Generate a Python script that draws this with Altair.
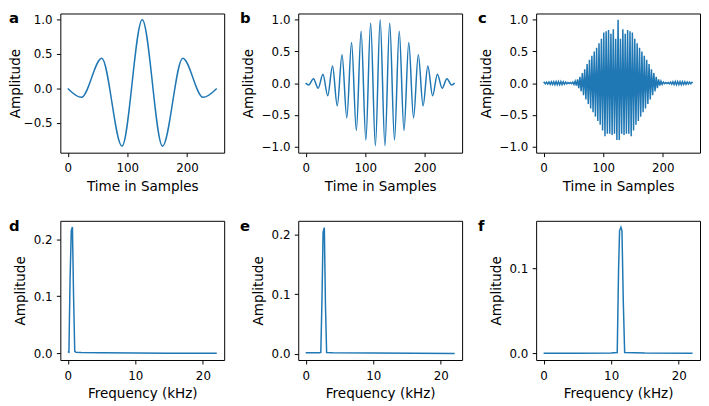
import altair as alt
import pandas as pd

# ---------------- data ----------------
# a: slow wavelet, extrema (time in samples, amplitude)
a_x = [0, 23, 57, 91, 125, 159, 193, 227, 250]
a_y = [0.0, -0.13, 0.44, -0.84, 1.0, -0.84, 0.44, -0.13, 0.0]

# b: medium wavelet, extrema
b_x = [0, 5, 13, 21, 29, 37, 45, 53, 61, 69, 77, 85, 93, 101, 109, 117, 125,
       133, 141, 149, 157, 165, 173, 181, 189, 197, 205, 213, 221, 229, 237, 245, 250]
b_y = [0.0, -0.03, 0.07, -0.08, 0.14, -0.2, 0.27, -0.36, 0.45, -0.55, 0.64, -0.75,
       0.82, -0.9, 0.95, -0.99, 1.0, -0.99, 0.95, -0.9, 0.82, -0.75, 0.64, -0.55,
       0.45, -0.36, 0.27, -0.2, 0.14, -0.08, 0.07, -0.03, 0.0]

# c: fast wavelet, alternating extrema at odd samples
c_x = [0] + list(range(1, 250, 2)) + [250]
c_y = [0.0,
       0.01, -0.012, 0.015, -0.015, 0.018, -0.02, 0.02, -0.022, 0.022, -0.025,
       0.025, -0.025, 0.025, -0.025, 0.025, -0.022, 0.02, -0.018, 0.015, -0.012,
       0.01, -0.008, 0.008, -0.01, 0.015, -0.02, 0.03, -0.04, 0.06, -0.08,
       0.1, -0.13, 0.16, -0.19, 0.22, -0.26, 0.3, -0.33, 0.37, -0.4,
       0.43, -0.46, 0.5, -0.53, 0.56, -0.6, 0.63, -0.66, 0.7, -0.75,
       0.8, -0.84, 0.82, -0.8, 0.84, -0.8, 0.78, -0.82, 0.85, -0.8,
       0.7, -0.9, 1.0,
       -0.9, 0.7, -0.8, 0.85, -0.82, 0.78, -0.8, 0.84, -0.8, 0.82,
       -0.84, 0.8, -0.75, 0.7, -0.66, 0.63, -0.6, 0.56, -0.53, 0.5,
       -0.46, 0.43, -0.4, 0.37, -0.33, 0.3, -0.26, 0.22, -0.19, 0.16,
       -0.13, 0.1, -0.08, 0.06, -0.04, 0.03, -0.02, 0.015, -0.01, 0.008,
       -0.008, 0.01, -0.012, 0.015, -0.018, 0.02, -0.022, 0.025, -0.025, 0.025,
       -0.025, 0.025, -0.025, 0.022, -0.022, 0.02, -0.02, 0.018, -0.015, 0.015,
       -0.012, 0.01,
       0.0]

# d, e, f: spectra (frequency in kHz, amplitude)
d_x = [0.0, 0.17, 0.34, 0.52, 0.69, 0.86, 1.03, 1.2, 2.0, 5.0, 10.0, 15.0, 22.05]
d_y = [0.003, 0.002, 0.13, 0.215, 0.221, 0.1, 0.004, 0.002, 0.0015, 0.001, 0.0007, 0.0005, 0.0004]

e_x = [0.0, 1.0, 2.0, 2.24, 2.41, 2.58, 2.76, 2.93, 3.1, 4.0, 10.0, 22.05]
e_y = [0.0015, 0.0015, 0.0015, 0.002, 0.09, 0.205, 0.212, 0.08, 0.002, 0.0015, 0.001, 0.0005]

f_x = [0.0, 5.0, 10.0, 10.9, 11.1, 11.25, 11.45, 11.6, 11.8, 12.0, 15.0, 22.05]
f_y = [0.0003, 0.0003, 0.0005, 0.001, 0.1, 0.145, 0.149, 0.145, 0.06, 0.001, 0.0004, 0.0003]

time_ticks = [0, 100, 200]
freq_ticks = [0, 10, 20]

BLUE = "#1f77b4"
FONT = "DejaVu Sans"


def panel(xs, ys, letter, xdom, ydom, xticks, yticks, xtitle, interp, dx, tpad):
    df = pd.DataFrame({"x": xs, "y": ys})
    title = alt.Title(letter, anchor="start", frame="group", dx=dx, dy=25,
                      offset=0, fontSize=15, fontWeight="bold", font=FONT,
                      color="black", baseline="alphabetic")
    return (
        alt.Chart(df, title=title)
        .mark_line(color=BLUE, strokeWidth=1.5, interpolate=interp, clip=True)
        .encode(
            x=alt.X("x:Q",
                    scale=alt.Scale(domain=xdom, nice=False, zero=False),
                    axis=alt.Axis(values=xticks, title=xtitle, format="d")),
            y=alt.Y("y:Q",
                    scale=alt.Scale(domain=ydom, nice=False, zero=False),
                    axis=alt.Axis(values=yticks, title="Amplitude", format=".1f",
                                  titlePadding=tpad)),
        )
        .properties(width=166, height=141)
    )


tdom = [-12.5, 262.5]
fdom = [-1.1025, 23.1525]

pa = panel(a_x, a_y, "a", tdom, [-0.935, 1.09], time_ticks, [-0.5, 0.0, 0.5, 1.0],
           "Time in Samples", "monotone", -52, 0.5)
pb = panel(b_x, b_y, "b", tdom, [-1.1, 1.1], time_ticks, [-1.0, -0.5, 0.0, 0.5, 1.0],
           "Time in Samples", "monotone", -59, 6)
pc = panel(c_x, c_y, "c", tdom, [-1.1, 1.1], time_ticks, [-1.0, -0.5, 0.0, 0.5, 1.0],
           "Time in Samples", "linear", -59, 6)
pd_ = panel(d_x, d_y, "d", fdom, [-0.0115, 0.232], freq_ticks, [0.0, 0.1, 0.2],
            "Frequency (kHz)", "linear", -52, 6)
pe = panel(e_x, e_y, "e", fdom, [-0.0106, 0.2234], freq_ticks, [0.0, 0.1, 0.2],
           "Frequency (kHz)", "linear", -59, 6)
pf = panel(f_x, f_y, "f", fdom, [-0.0078, 0.1565], freq_ticks, [0.0, 0.1],
           "Frequency (kHz)", "linear", -59, 6)

chart = (
    alt.concat(pa, pb, pc, pd_, pe, pf, columns=3,
               spacing={"row": 69, "column": 75}, bounds="flush")
    .properties(padding={"left": 0, "top": 0, "right": 0, "bottom": 0})
    .configure_view(stroke="black", strokeWidth=1)
    .configure_axis(
        labelFont=FONT, labelFontSize=12, labelColor="black",
        titleFont=FONT, titleFontSize=13.7, titleFontWeight="normal", titleColor="black",
        tickColor="black", tickSize=4, tickWidth=1, domain=False, grid=False,
        labelFlush=False, labelOverlap=False,
    )
    .configure_axisX(labelPadding=6.5, titlePadding=5.5)
    .configure_axisY(labelPadding=4.4)
)

chart.save("out.html", embed_options={"renderer": "svg", "actions": False})
